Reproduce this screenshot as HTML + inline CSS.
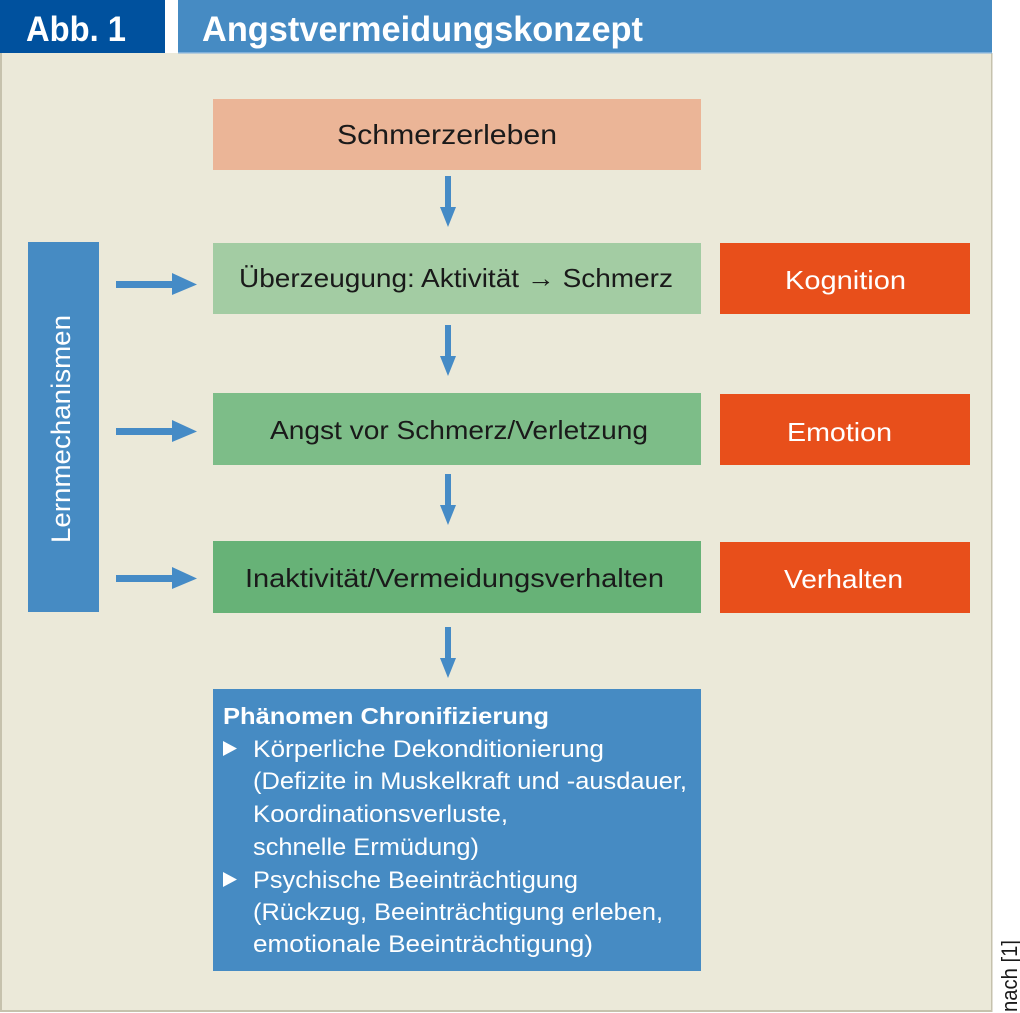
<!DOCTYPE html>
<html><head><meta charset="utf-8"><style>
html,body{margin:0;padding:0;background:#fff;}
svg{display:block;}
text{font-family:"Liberation Sans",sans-serif;}
</style></head><body>
<svg width="1020" height="1013" viewBox="0 0 1020 1013" xmlns="http://www.w3.org/2000/svg">
<rect x="0" y="0" width="1020" height="1013" fill="#ffffff"/>
<!-- panel -->
<rect x="0" y="53" width="992" height="959" fill="#ebe9d9"/>
<rect x="0" y="53" width="2" height="959" fill="#c6c2ad"/>
<rect x="991" y="53" width="1.5" height="959" fill="#c6c2ad"/>
<rect x="0" y="1010" width="992" height="2" fill="#c6c2ad"/>
<!-- header -->
<rect x="0" y="0" width="165" height="53" fill="#00519e"/>
<rect x="178" y="0" width="814" height="53" fill="#468bc3"/>
<rect x="178" y="52" width="814" height="1.5" fill="#7fb0da"/>
<text x="26" y="41" font-size="35" font-weight="bold" fill="#fff" textLength="100" lengthAdjust="spacingAndGlyphs">Abb. 1</text>
<text x="202" y="41" font-size="35" font-weight="bold" fill="#fff" textLength="441" lengthAdjust="spacingAndGlyphs">Angstvermeidungskonzept</text>

<!-- center boxes -->
<rect x="213" y="99" width="488" height="71" fill="#ebb597"/>
<text x="337" y="144" font-size="28" fill="#1a1a1a" textLength="220" lengthAdjust="spacingAndGlyphs">Schmerzerleben</text>

<rect x="213" y="243" width="488" height="71" fill="#a3cca3"/>
<text x="239" y="287" font-size="26" fill="#1a1a1a" textLength="434" lengthAdjust="spacingAndGlyphs">Überzeugung: Aktivität → Schmerz</text>

<rect x="213" y="393" width="488" height="72" fill="#7dbd88"/>
<text x="270" y="439" font-size="26" fill="#1a1a1a" textLength="378" lengthAdjust="spacingAndGlyphs">Angst vor Schmerz/Verletzung</text>

<rect x="213" y="541" width="488" height="72" fill="#67b277"/>
<text x="245" y="587" font-size="26" fill="#1a1a1a" textLength="419" lengthAdjust="spacingAndGlyphs">Inaktivität/Vermeidungsverhalten</text>

<!-- right boxes -->
<rect x="720" y="243" width="250" height="71" fill="#e84f1b"/>
<text x="785" y="289" font-size="26" fill="#fff" textLength="121" lengthAdjust="spacingAndGlyphs">Kognition</text>
<rect x="720" y="394" width="250" height="71" fill="#e84f1b"/>
<text x="787" y="441" font-size="26" fill="#fff" textLength="105" lengthAdjust="spacingAndGlyphs">Emotion</text>
<rect x="720" y="542" width="250" height="71" fill="#e84f1b"/>
<text x="784" y="588" font-size="26" fill="#fff" textLength="119" lengthAdjust="spacingAndGlyphs">Verhalten</text>

<!-- Lernmechanismen -->
<rect x="28" y="242" width="71" height="370" fill="#468bc3"/>
<text transform="translate(70,543) rotate(-90)" font-size="27" fill="#fff" textLength="228" lengthAdjust="spacingAndGlyphs">Lernmechanismen</text>

<!-- horizontal arrows -->
<g fill="#458bc6">
<rect x="116" y="281" width="58" height="7"/><polygon points="172,273 197,284.5 172,295"/>
<rect x="116" y="428" width="58" height="7"/><polygon points="172,420 197,431.5 172,442"/>
<rect x="116" y="575" width="58" height="7"/><polygon points="172,567 197,578.5 172,589"/>
<!-- vertical arrows -->
<rect x="445" y="176" width="6" height="33"/><polygon points="440,207 456,207 448,227"/>
<rect x="445" y="325" width="6" height="33"/><polygon points="440,356 456,356 448,376"/>
<rect x="445" y="474" width="6" height="33"/><polygon points="440,505 456,505 448,525"/>
<rect x="445" y="627" width="6" height="33"/><polygon points="440,658 456,658 448,678"/>
</g>

<!-- Phänomen box -->
<rect x="213" y="689" width="488" height="282" fill="#468bc3"/>
<g fill="#fff">
<text x="223" y="724" font-size="23" font-weight="bold" textLength="326" lengthAdjust="spacingAndGlyphs">Phänomen Chronifizierung</text>
<polygon points="223,741 237,748.5 223,756"/>
<text x="253" y="757" font-size="24" textLength="351" lengthAdjust="spacingAndGlyphs">Körperliche Dekonditionierung</text>
<text x="253" y="789" font-size="24" textLength="434" lengthAdjust="spacingAndGlyphs">(Defizite in Muskelkraft und -ausdauer,</text>
<text x="253" y="822" font-size="24" textLength="255" lengthAdjust="spacingAndGlyphs">Koordinationsverluste,</text>
<text x="253" y="855" font-size="24" textLength="226" lengthAdjust="spacingAndGlyphs">schnelle Ermüdung)</text>
<polygon points="223,872 237,879.5 223,887"/>
<text x="253" y="888" font-size="24" textLength="325" lengthAdjust="spacingAndGlyphs">Psychische Beeinträchtigung</text>
<text x="253" y="920" font-size="24" textLength="410" lengthAdjust="spacingAndGlyphs">(Rückzug, Beeinträchtigung erleben,</text>
<text x="253" y="952" font-size="24" textLength="340" lengthAdjust="spacingAndGlyphs">emotionale Beeinträchtigung)</text>
</g>

<!-- source -->
<text transform="translate(1017,1012) rotate(-90)" font-size="22" fill="#1a1a1a" textLength="72" lengthAdjust="spacingAndGlyphs">nach [1]</text>
</svg>
</body></html>
